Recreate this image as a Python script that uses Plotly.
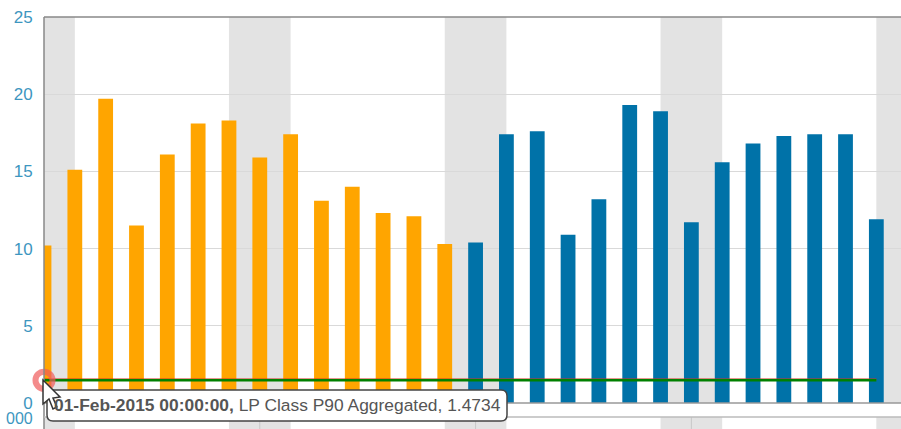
import plotly.graph_objects as go
from datetime import date, timedelta

START = date(2015, 2, 1)
days = [START + timedelta(days=i) for i in range(28)]
x_dates = [d.isoformat() for d in days]
orange_values = [10.2, 15.1, 19.7, 11.5, 16.1, 18.1, 18.3, 15.9, 17.4, 13.1, 14.0, 12.3, 12.1, 10.3]
blue_values = [10.4, 17.4, 17.6, 10.9, 13.2, 19.3, 18.9, 11.7, 15.6, 16.8, 17.3, 17.4, 17.4, 11.9]
p90_value = 1.4734
red_value = 1.52
y_ticks = [0, 5, 10, 15, 20, 25]
weekend_starts = ["2015-02-01", "2015-02-07", "2015-02-14", "2015-02-21", "2015-02-28"]
weekend_ends = ["2015-02-02", "2015-02-09", "2015-02-16", "2015-02-23", "2015-02-28 19:12"]
strip_ticks = ["2015-02-08", "2015-02-15", "2015-02-22"]
tooltip_bold = "01-Feb-2015 00:00:00,"
tooltip_rest = " LP Class P90 Aggregated, 1.4734"

W, H = 901, 429
L, R, T, B = 44, 901, 17, 403
def px(v): return (v - L) / (R - L)
def py(v): return (B - v) / (B - T)

fig = go.Figure()
BAR_W = 0.48 * 86400000
fig.add_bar(x=x_dates[:14], y=orange_values, marker_color="#FFA500", marker_line_width=0, width=BAR_W)
fig.add_bar(x=x_dates[14:], y=blue_values, marker_color="#0072A8", marker_line_width=0, width=BAR_W)
fig.add_scatter(x=x_dates, y=[red_value] * 28, mode="lines", line=dict(color="#D03020", width=2))
fig.add_scatter(x=x_dates, y=[p90_value] * 28, mode="lines", line=dict(color="#008000", width=2.5))
fig.add_scatter(x=x_dates[:1], y=[p90_value], mode="markers", cliponaxis=False,
                marker=dict(size=17, color="rgba(0,0,0,0)", line=dict(color="rgba(240,90,90,0.7)", width=6)))

shapes = []
for s, e in zip(weekend_starts, weekend_ends):
    shapes.append(dict(type="rect", xref="x", yref="paper", x0=s, x1=e, y0=0, y1=1,
                       fillcolor="#E3E3E3", line_width=0, layer="below"))
    shapes.append(dict(type="rect", xref="x", yref="paper", x0=s, x1=e, y0=py(417), y1=py(429),
                       fillcolor="#E3E3E3", line_width=0, layer="below"))
for t in strip_ticks:
    shapes.append(dict(type="line", xref="x", yref="paper", x0=t, x1=t, y0=py(417), y1=py(429),
                       line=dict(color="#C8C8C8", width=1), layer="below"))
# frame of the main plot and the lower strip
shapes += [
    dict(type="line", xref="paper", yref="paper", x0=0, x1=0, y0=py(429), y1=1, line=dict(color="#888888", width=1.5)),
    dict(type="line", xref="paper", yref="paper", x0=0, x1=1, y0=1, y1=1, line=dict(color="#888888", width=1.5)),
    dict(type="line", xref="paper", yref="paper", x0=0, x1=1, y0=0, y1=0, line=dict(color="#999999", width=1.5)),
    dict(type="line", xref="paper", yref="paper", x0=0, x1=1, y0=py(417), y1=py(417), line=dict(color="#BBBBBB", width=1.5)),
]
# tooltip callout
x0, x1, y0, y1, r = 47, 507, 390, 421, 6
tip = (f"M {px(x0+r)} {py(y0)} L {px(x1-r)} {py(y0)} Q {px(x1)} {py(y0)} {px(x1)} {py(y0+r)} "
       f"L {px(x1)} {py(y1-r)} Q {px(x1)} {py(y1)} {px(x1-r)} {py(y1)} "
       f"L {px(x0+r)} {py(y1)} Q {px(x0)} {py(y1)} {px(x0)} {py(y1-r)} "
       f"L {px(x0)} {py(y0+r)} Q {px(x0)} {py(y0)} {px(x0+r)} {py(y0)} Z")
shapes.append(dict(type="path", xref="paper", yref="paper", path=tip, fillcolor="white",
                   line=dict(color="#444444", width=1.5), layer="above"))
# mouse pointer
pts = [(43, 380), (43, 404), (49, 399), (53, 409), (57, 407), (53, 398), (60, 397)]
arrow = "M " + " L ".join(f"{px(a)} {py(b)}" for a, b in pts) + " Z"
shapes.append(dict(type="path", xref="paper", yref="paper", path=arrow, fillcolor="white",
                   line=dict(color="#333333", width=1.5), layer="above"))

annotations = [
    dict(xref="paper", yref="paper", x=px(52), y=py(405), xanchor="left", yanchor="middle", showarrow=False,
         text=f"<b>{tooltip_bold}</b>{tooltip_rest}", font=dict(family="Liberation Sans", size=17.4, color="#555555")),
    dict(xref="paper", yref="paper", x=px(35), y=py(419), xanchor="right", yanchor="middle", showarrow=False,
         text="000", font=dict(family="Liberation Sans", size=16, color="#3D96C0")),
]

fig.update_layout(
    width=W, height=H, autosize=False, barmode="overlay", showlegend=False,
    margin=dict(l=L, r=W - R, t=T, b=H - B), paper_bgcolor="white", plot_bgcolor="rgba(0,0,0,0)",
    shapes=shapes, annotations=annotations,
    xaxis=dict(type="date", range=["2015-02-01", "2015-02-28 19:12"], showgrid=False, zeroline=False,
               showticklabels=False, ticks="", showline=False),
    yaxis=dict(range=[0, 25], tickvals=y_ticks, showgrid=True, gridcolor="#D9D9D9", gridwidth=1,
               zeroline=False, showline=False, ticks="outside", ticklen=7, tickcolor="rgba(0,0,0,0)",
               tickfont=dict(family="Liberation Sans", size=17, color="#3D96C0")),
)
fig.write_html("out.html", config=dict(displayModeBar=False),
               post_script="document.body.style.margin='0';document.body.style.overflow='hidden';")
